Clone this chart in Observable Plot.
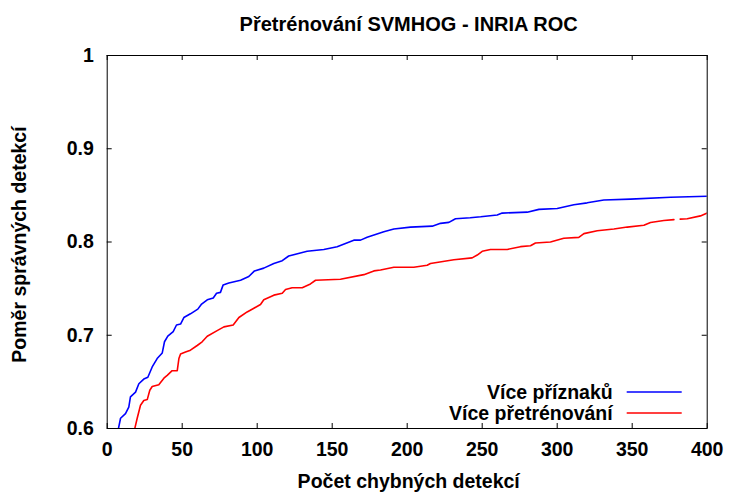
<!DOCTYPE html>
<html>
<head>
<meta charset="utf-8">
<script src="https://cdn.jsdelivr.net/npm/d3@7"></script>
<script src="https://cdn.jsdelivr.net/npm/@observablehq/plot@0.6"></script>
<style>
  html, body { margin: 0; padding: 0; background: #fff; }
</style>
</head>
<body>
<div id="chart"></div>
<script>
const title = "Přetrénování SVMHOG - INRIA ROC";
const xLabel = "Počet chybných detekcí";
const yLabel = "Poměr správných detekcí";
const xTicks = [0, 50, 100, 150, 200, 250, 300, 350, 400];
const yTicks = [0.6, 0.7, 0.8, 0.9, 1];
const yTickLabels = ["0.6", "0.7", "0.8", "0.9", "1"];
const seriesNames = ["Více příznaků", "Více přetrénování"];
const seriesColors = ["#0000ff", "#ff0000"];

const blueX = [7.5, 8.9, 12.2, 14.4, 15.5, 18.9, 21.1, 24.4, 27.1, 30, 33.3, 36.7, 38.2, 40.4, 44, 46.2, 48.9, 51.1, 55.5, 60.4, 62.7, 66.7, 70.7, 72.9, 75.5, 77.3, 81.1, 88.9, 94.4, 98.2, 104.4, 111.1, 116.7, 121, 133.3, 144.4, 153.3, 164.4, 168.9, 173.3, 184.4, 191.1, 202.2, 216.7, 222.2, 227.8, 232.2, 242, 249, 260, 263.3, 280, 287.8, 300, 311.1, 320, 331.1, 348.9, 375.6, 400];
const blueY = [0.6, 0.611, 0.616, 0.623, 0.634, 0.639, 0.648, 0.653, 0.655, 0.666, 0.675, 0.681, 0.693, 0.699, 0.704, 0.711, 0.712, 0.719, 0.723, 0.728, 0.733, 0.738, 0.740, 0.745, 0.746, 0.754, 0.756, 0.759, 0.763, 0.769, 0.772, 0.777, 0.780, 0.785, 0.790, 0.792, 0.795, 0.802, 0.802, 0.805, 0.811, 0.814, 0.816, 0.817, 0.820, 0.821, 0.825, 0.826, 0.827, 0.829, 0.831, 0.832, 0.835, 0.836, 0.840, 0.842, 0.845, 0.846, 0.848, 0.849];

const redX = [18.4, 20, 22.2, 24.4, 26.7, 28.4, 30, 34.4, 37.8, 40, 43.3, 46.7, 47.8, 48.9, 52.2, 55.5, 60, 63.3, 66.7, 73.3, 77.8, 84, 87.8, 93.3, 97.8, 102.2, 104.4, 111.1, 116.7, 118.9, 123.3, 130, 135.5, 138.9, 155.5, 171.1, 177.8, 182.2, 191.1, 204.4, 213.3, 215.5, 231.1, 243.3, 246.7, 250, 255.5, 266.7, 275.5, 282.2, 285.5, 295.5, 304.4, 314.4, 317.8, 326.7, 337.8, 346.7, 357.8, 362.2, 371.1, 377.8, 380, 382, 386.7, 395.5, 400];
const redY = [0.6, 0.611, 0.625, 0.630, 0.631, 0.641, 0.645, 0.647, 0.654, 0.657, 0.662, 0.662, 0.675, 0.680, 0.682, 0.684, 0.689, 0.693, 0.699, 0.705, 0.709, 0.711, 0.719, 0.725, 0.729, 0.733, 0.738, 0.743, 0.745, 0.749, 0.751, 0.751, 0.755, 0.759, 0.760, 0.765, 0.769, 0.770, 0.773, 0.773, 0.775, 0.777, 0.781, 0.783, 0.786, 0.790, 0.792, 0.792, 0.795, 0.796, 0.799, 0.800, 0.804, 0.805, 0.809, 0.812, 0.814, 0.816, 0.818, 0.821, 0.823, 0.824, NaN, 0.8245, 0.825, 0.828, 0.831];

const rows = [
  ...blueX.map((x, i) => ({series: seriesNames[0], x, y: blueY[i]})),
  ...redX.map((x, i) => ({series: seriesNames[1], x, y: redY[i]}))
];

const FONT = "'Liberation Sans', Arial, Helvetica, sans-serif";

function legend(index, scales, values, dimensions) {
  const {width, height, marginRight, marginBottom} = dimensions;
  const right = width - marginRight;
  const bottom = height - marginBottom;
  const g = d3.create("svg:g");
  seriesNames.forEach((name, i) => {
    const yy = bottom - 36 + i * 21;
    g.append("text")
      .attr("x", right - 94)
      .attr("y", yy)
      .attr("dy", "0.35em")
      .attr("text-anchor", "end")
      .attr("font-size", 19.5)
      .attr("font-weight", "bold")
      .attr("fill", "black")
      .text(name);
    g.append("line")
      .attr("x1", right - 80)
      .attr("x2", right - 25)
      .attr("y1", yy)
      .attr("y2", yy)
      .attr("stroke", scales.color(name))
      .attr("stroke-width", 1.6);
  });
  return g.node();
}

const chart = Plot.plot({
  width: 730,
  height: 493,
  marginLeft: 106.7,
  marginRight: 23.3,
  marginTop: 55,
  marginBottom: 65,
  style: {fontFamily: FONT, fontSize: "19.5px", fontWeight: "bold", background: "white", color: "black"},
  x: {domain: [0, 400]},
  y: {domain: [0.6, 1]},
  color: {domain: seriesNames, range: seriesColors},
  marks: [
    Plot.line(rows, {x: "x", y: "y", z: "series", stroke: "series", strokeWidth: 1.6, clip: true}),
    Plot.frame({stroke: "black", strokeWidth: 1}),
    Plot.tickX(xTicks, {x: d => d, insetTop: 368, stroke: "black"}),
    Plot.tickX(xTicks, {x: d => d, insetBottom: 368, stroke: "black"}),
    Plot.tickY(yTicks, {y: d => d, insetRight: 595, stroke: "black"}),
    Plot.tickY(yTicks, {y: d => d, insetLeft: 595, stroke: "black"}),
    Plot.axisX(xTicks, {anchor: "bottom", tickSize: 0, tickPadding: 14, label: null, fontSize: 19.5}),
    Plot.axisY(yTicks, {anchor: "left", tickSize: 0, tickPadding: 13.4, label: null, fontSize: 19.5,
      tickFormat: d => yTickLabels[yTicks.indexOf(d)]}),
    Plot.text([title], {frameAnchor: "top", dx: 1.5, dy: -30.5, lineAnchor: "middle", fontSize: 20, fontWeight: "bold"}),
    Plot.text([xLabel], {frameAnchor: "bottom", dx: 1.5, dy: 53, lineAnchor: "middle", fontSize: 19.5, fontWeight: "bold"}),
    Plot.text([yLabel], {frameAnchor: "left", dx: -87.5, dy: 2.5, rotate: -90, textAnchor: "middle", lineAnchor: "middle", fontSize: 19.5, fontWeight: "bold"}),
    legend
  ]
});

document.getElementById("chart").appendChild(chart);
</script>
</body>
</html>
